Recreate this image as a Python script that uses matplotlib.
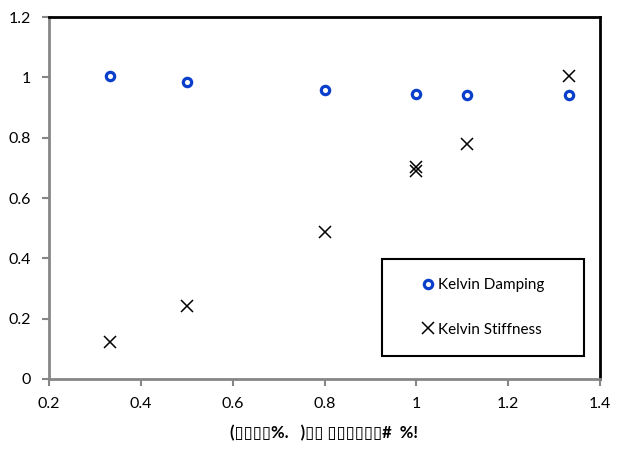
import matplotlib
matplotlib.use("Agg")
import matplotlib.pyplot as plt
from matplotlib.patches import Rectangle

plt.rcParams['font.family'] = ['Lato', 'DejaVu Sans']

damping_x = [0.333, 0.5, 0.8, 1.0, 1.111, 1.333]
damping_y = [1.005, 0.983, 0.958, 0.946, 0.942, 0.942]
stiff_x = [0.333, 0.5, 0.8, 1.0, 1.0, 1.111, 1.333]
stiff_y = [0.124, 0.242, 0.487, 0.704, 0.688, 0.779, 1.005]
xticks = [0.2, 0.4, 0.6, 0.8, 1.0, 1.2, 1.4]
xtick_labels = ["0.2", "0.4", "0.6", "0.8", "1", "1.2", "1.4"]
yticks = [0, 0.2, 0.4, 0.6, 0.8, 1.0, 1.2]
ytick_labels = ["0", "0.2", "0.4", "0.6", "0.8", "1", "1.2"]
xlabel = "(▯▯▯▯%.   )▯▯ ▯▯▯▯▯▯#  %!"

fig = plt.figure(figsize=(6.17, 4.55), dpi=100)
ax = fig.add_axes([49/617, 1-379/455, 551/617, 362/455])

ax.plot(damping_x, damping_y, linestyle='none', marker='o', markersize=6,
        mfc='white', mec='#0a3fcc', mew=2.3, label='Kelvin Damping')
ax.plot(stiff_x, stiff_y, linestyle='none', marker='x', markersize=9,
        color='black', mew=1.1, label='Kelvin Stiffness')

ax.set_xlim(0.2, 1.4)
ax.set_ylim(0, 1.2)
ax.set_xticks(xticks)
ax.set_xticklabels(xtick_labels)
ax.set_yticks(yticks)
ax.set_yticklabels(ytick_labels)

for s in ['left', 'bottom']:
    ax.spines[s].set_color('#868686')
    ax.spines[s].set_linewidth(2)
for s in ['top', 'right']:
    ax.spines[s].set_color('black')
    ax.spines[s].set_linewidth(2)
ax.tick_params(direction='out', length=5, width=1.5, color='#868686',
               labelsize=11.5, labelcolor='black', pad=8)

ax.set_xlabel(xlabel, fontsize=12, labelpad=10, fontweight='bold')

# legend box
ax.add_patch(Rectangle((0.604, 0.0635), 0.367, 0.268, transform=ax.transAxes,
                       fill=True, facecolor='white', edgecolor='black',
                       linewidth=1.5, zorder=3))
leg = ax.legend(loc='center', bbox_to_anchor=(0.7877, 0.1975), frameon=False,
                fontsize=11, labelspacing=2.0, handlelength=0.8,
                handletextpad=0.3, borderpad=0)
leg.set_zorder(4)

fig.savefig("out.png", dpi=100)
